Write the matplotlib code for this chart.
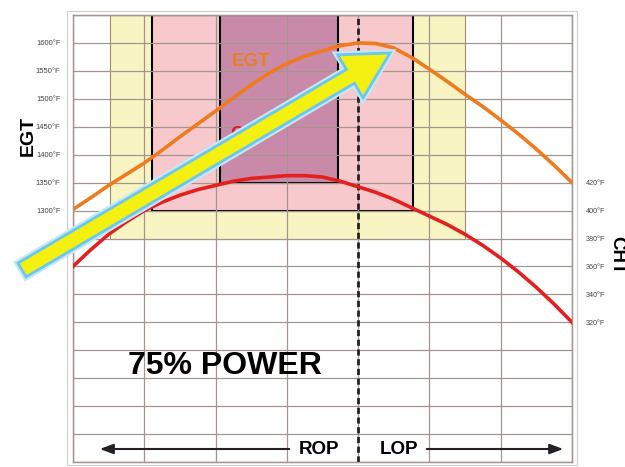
import matplotlib.pyplot as plt
import matplotlib.patheffects as pe
from matplotlib.patches import Rectangle, FancyArrow

plt.rcParams['font.family'] = ['Liberation Sans', 'DejaVu Sans']

# mixture position across the chart (grid columns), rich on the left, lean on the right
mixture = [0, 0.25, 0.5, 0.75, 1, 1.25, 1.5, 1.75, 2, 2.25, 2.5, 2.75, 3, 3.25, 3.5,
           3.75, 4, 4.25, 4.5, 4.75, 5, 5.25, 5.5, 5.75, 6, 6.25, 6.5, 6.75, 7]
egt = [1302, 1323, 1345, 1365, 1385, 1408, 1432, 1455, 1478, 1502, 1525, 1546, 1563, 1576, 1586,
       1595, 1600, 1599, 1591, 1574, 1553, 1531, 1508, 1486, 1462, 1437, 1410, 1381, 1350]
cht = [360, 372, 383, 392, 400, 406, 411, 415, 418, 421, 423, 424, 425, 425, 424,
       421, 417, 413, 408, 402, 396, 390, 383, 375, 366, 356, 345, 333, 320]

egt_ticks = [1300, 1350, 1400, 1450, 1500, 1550, 1600]
cht_ticks = [320, 340, 360, 380, 400, 420]
peak_egt_x = 4

W, H = 625, 467
fig = plt.figure(figsize=(W / 100, H / 100), dpi=100)


def fx(px):
    return px / W


def fy(py):
    return 1 - py / H


ax = fig.add_axes([fx(73), fy(462), fx(572) - fx(73), fy(15) - fy(462)])
ax2 = ax.twinx()

grid_col = '#a39490'
ax.set_xlim(0, 7)
ax.set_ylim(850, 1650)
ax2.set_ylim(220, 540)

ax.set_xticks(range(0, 8))
ax.set_xticklabels([])
ax.set_yticks(range(850, 1651, 50))
ax.set_yticklabels([f'{t}°F' if t in egt_ticks else '' for t in range(850, 1651, 50)])
ax2.set_yticks(cht_ticks)
ax2.set_yticklabels([f'{t}°F' for t in cht_ticks])
ax.tick_params(length=0, labelsize=5.5, pad=9, colors='#444444')
ax2.tick_params(length=0, labelsize=5.2, pad=10, colors='#444444')
ax.grid(True, color=grid_col, lw=0.9)
for a in (ax, ax2):
    for s in a.spines.values():
        s.set_color(grid_col)
        s.set_linewidth(0.9)

# shaded operating zones
ax.add_patch(Rectangle((0.52, 1250), 5.5 - 0.52, 400, facecolor='#f9f5c3',
                       edgecolor='#9a9070', lw=0.8, zorder=1))
ax.add_patch(Rectangle((1.11, 1300), 4.77 - 1.11, 350, facecolor='#f7c9cd',
                       edgecolor='black', lw=1.5, zorder=1))
ax.add_patch(Rectangle((2.06, 1350), 3.72 - 2.06, 300, facecolor='#c98aa9',
                       edgecolor='black', lw=1.5, zorder=1))

ax.axvline(peak_egt_x, color='#222222', lw=2, ls=(0, (2.2, 1.3)), zorder=2.5)

ax.plot(mixture, egt, color='#f07a1e', lw=2.6, solid_joinstyle='round', zorder=3)
ax2.plot(mixture, cht, color='#e4201f', lw=2.6, solid_joinstyle='round', zorder=3)

ax.text(2.5, 1566, 'EGT', color='#e8801e', fontsize=13.5, fontweight='bold',
        ha='center', va='center', zorder=4)
ax.text(2.48, 1437, 'CHT', color='#d42020', fontsize=13.5, fontweight='bold',
        ha='center', va='center', zorder=4)

fig.text(fx(225), fy(366), '75% POWER', fontsize=23, fontweight='bold',
         ha='center', va='center')
fig.text(fx(28), fy(136), 'EGT', fontsize=14, fontweight='bold', rotation=90,
         ha='center', va='center')
fig.text(fx(617), fy(255), 'CHT', fontsize=13.5, fontweight='bold', rotation=270,
         ha='center', va='center')

# ROP / LOP arrows at the bottom
fig.text(fx(319), fy(449), 'ROP', fontsize=13.5, fontweight='bold', ha='center', va='center')
fig.text(fx(399), fy(449), 'LOP', fontsize=13.5, fontweight='bold', ha='center', va='center')
arrow_kw = dict(arrowstyle='-|>,head_length=0.8,head_width=0.3', color='#222222', lw=1.5)
ax.annotate('', xy=(fx(97), fy(449)), xytext=(fx(292), fy(449)),
            xycoords='figure fraction', textcoords='figure fraction', arrowprops=arrow_kw)
ax.annotate('', xy=(fx(566), fy(449)), xytext=(fx(424), fy(449)),
            xycoords='figure fraction', textcoords='figure fraction', arrowprops=arrow_kw)

# faint outer frame
fig.add_artist(Rectangle((fx(67), fy(465)), fx(577) - fx(67), fy(11) - fy(465),
                         transform=fig.transFigure, fill=False, edgecolor='#cfcfcf', lw=0.8))

# big yellow arrow toward peak EGT
big = FancyArrow(0.22, 1.97, 3.68, 2.17, width=0.16, head_width=0.5, head_length=0.46,
                 length_includes_head=True, transform=fig.dpi_scale_trans,
                 facecolor='#f4f010', edgecolor='#6cc7ef', lw=2, zorder=10)
big.set_path_effects([pe.Stroke(linewidth=5, foreground='#c4e8f8'), pe.Normal()])
fig.add_artist(big)

fig.savefig('out.png', dpi=100)
